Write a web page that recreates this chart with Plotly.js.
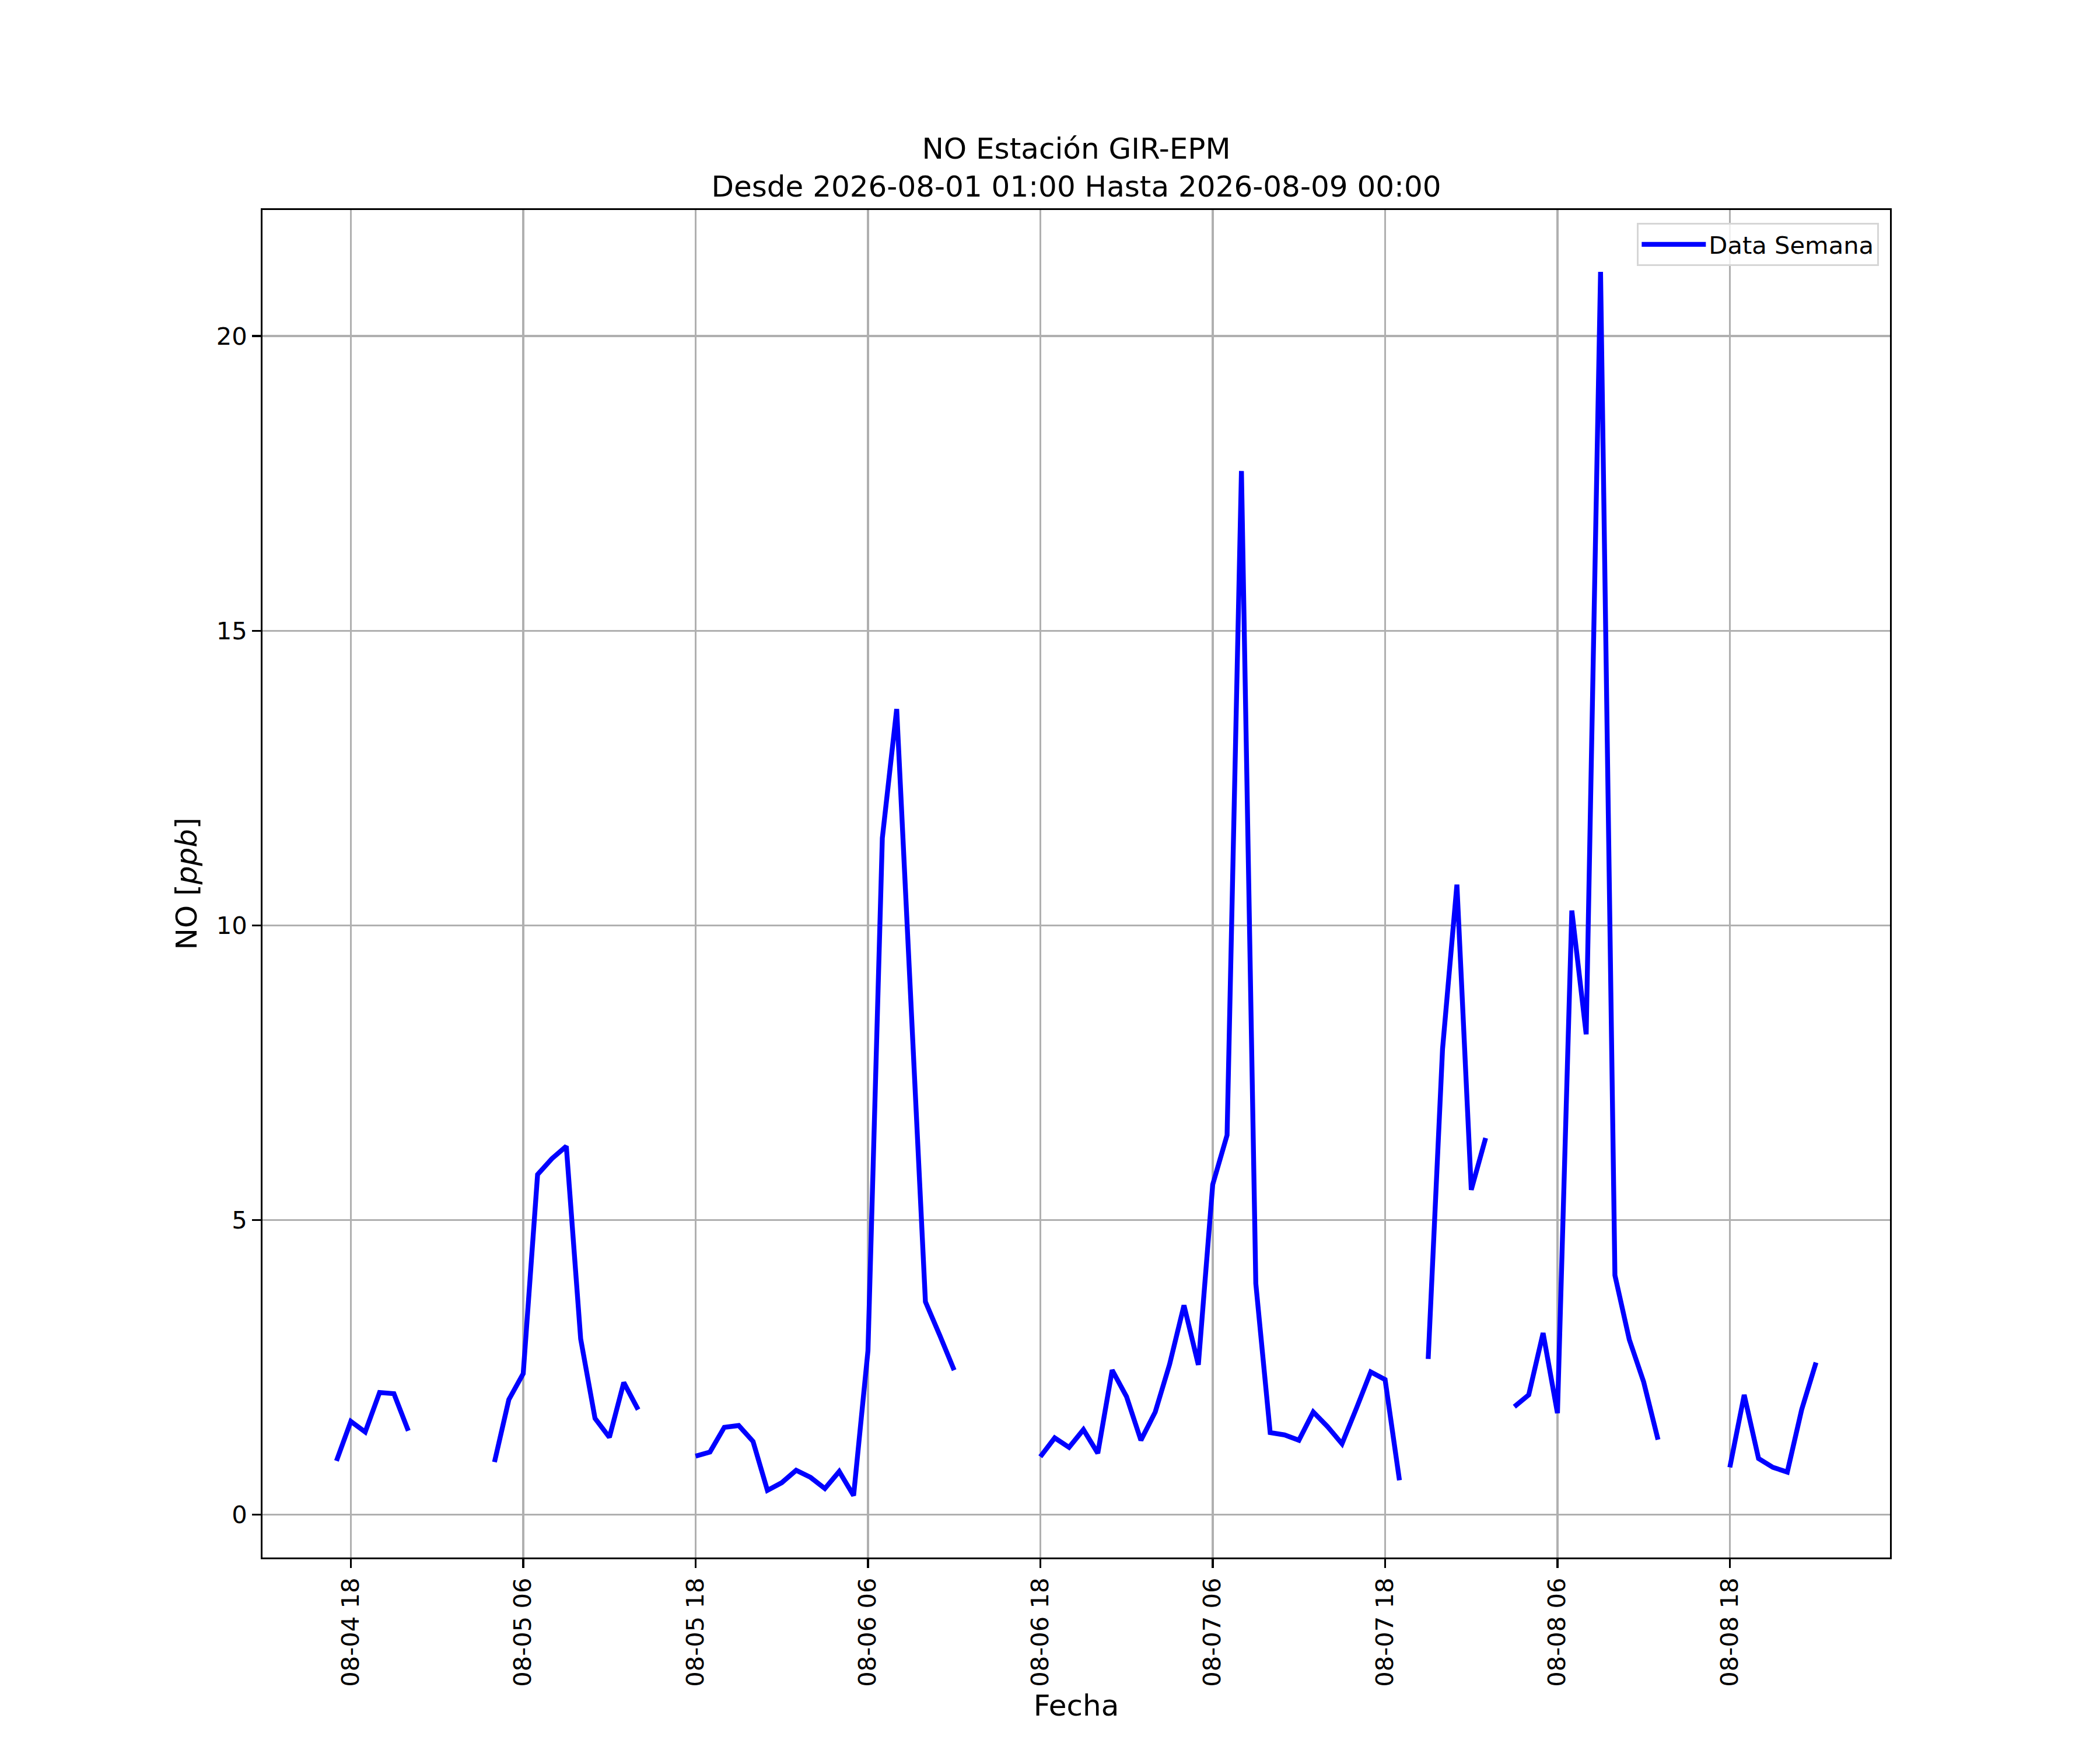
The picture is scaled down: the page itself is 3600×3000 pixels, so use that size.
<!DOCTYPE html>
<html>
<head>
<meta charset="utf-8">
<script src="https://cdn.plot.ly/plotly-3.0.1.min.js"></script>
<style>
  html, body { margin: 0; padding: 0; background: #ffffff; }
  #chart { width: 3600px; height: 3000px; }
</style>
</head>
<body>
<div id="chart"></div>
<script>
// hourly NO readings (ppb), null = missing hour
const FIRST_HOUR = '2026-08-04T17:00:00Z';
const aug04 = [0.91, 1.58, 1.40, 2.07, 2.05, 1.42, null];                 // 17..23
const aug05 = [null, null, null, null, 0.89, 1.95, 2.39, 5.77, 6.04, 6.25, 2.98, 1.63,
               1.31, 2.24, 1.78, null, null, null, 0.99, 1.06, 1.48, 1.51, 1.24, 0.41];
const aug06 = [0.54, 0.75, 0.63, 0.44, 0.73, 0.32, 2.78, 11.48, 13.67, 8.65, 3.61, 3.04,
               2.45, null, null, null, null, null, 0.98, 1.30, 1.14, 1.44, 1.04, 2.45];
const aug07 = [2.00, 1.26, 1.74, 2.55, 3.55, 2.54, 5.60, 6.44, 17.71, 3.92, 1.39, 1.35,
               1.26, 1.74, 1.49, 1.20, 1.80, 2.42, 2.29, 0.58, null, 2.64, 7.90, 10.69];
const aug08 = [5.51, 6.39, null, 1.83, 2.03, 3.08, 1.72, 10.25, 8.15, 21.09, 4.06, 2.97,
               2.25, 1.27, null, null, null, null, 0.80, 2.03, 0.95, 0.80, 0.72, 1.78];
const aug09 = [2.58];                                                     // 00

const noValues = [].concat(aug04, aug05, aug06, aug07, aug08, aug09);

function hourStamp(i) {
  const d = new Date(Date.parse(FIRST_HOUR) + i * 3600000);
  return d.toISOString().slice(0, 16).replace('T', ' ');
}
const times = noValues.map((_, i) => hourStamp(i));

const PX = 300 / 72;   // points -> pixels at 300 dpi

Plotly.newPlot('chart', [{
  type: 'scatter',
  mode: 'lines',
  name: 'Data Semana',
  x: times,
  y: noValues,
  line: { color: '#0000ff', width: 2 * PX },
  connectgaps: false,
}], {
  width: 3600,
  height: 3000,
  paper_bgcolor: '#ffffff',
  plot_bgcolor: '#ffffff',
  font: { family: 'DejaVu Sans', color: '#000000', size: 10 * PX },
  margin: { l: 450, r: 360, t: 360, b: 330, pad: 0 },
  title: {
    text: 'NO Estación GIR-EPM<br>Desde 2026-08-01 01:00 Hasta 2026-08-09 00:00',
    font: { size: 12 * PX },
    xref: 'paper', x: 0.5, xanchor: 'center',
    yref: 'paper', y: 1, yanchor: 'bottom',
    pad: { b: 88 },
  },
  showlegend: true,
  legend: {
    x: 0.9932, y: 0.9905, xanchor: 'right', yanchor: 'top',
    bgcolor: 'rgba(255,255,255,0.8)',
    bordercolor: '#d6d6d6', borderwidth: 3.3,
    itemwidth: 110,
    font: { size: 10 * PX },
  },
  xaxis: {
    type: 'date',
    range: ['2026-08-04 11:51', '2026-08-09 05:09'],
    tick0: '2026-08-04 18:00', dtick: 12 * 3600000,
    tickformat: '%m-%d %H',
    tickangle: -90,
    ticks: 'outside', ticklen: 3.5 * PX, tickwidth: 0.8 * PX, tickcolor: '#000000',
    tickfont: { size: 10 * PX },
    showgrid: true, gridcolor: '#b0b0b0', gridwidth: 0.8 * PX,
    showline: true, linecolor: '#000000', linewidth: 0.8 * PX, mirror: true,
    zeroline: false,
    title: { text: 'Fecha', font: { size: 12 * PX }, standoff: 16 },
  },
  yaxis: {
    range: [-0.73, 22.14],
    tick0: 0, dtick: 5,
    ticks: 'outside', ticklen: 3.5 * PX, tickwidth: 0.8 * PX, tickcolor: '#000000',
    tickfont: { size: 10 * PX },
    showgrid: true, gridcolor: '#b0b0b0', gridwidth: 0.8 * PX,
    showline: true, linecolor: '#000000', linewidth: 0.8 * PX, mirror: true,
    zeroline: false,
    title: { text: 'NO [<i>ppb</i>]', font: { size: 12 * PX }, standoff: 18 },
  },
}, { displayModeBar: false, staticPlot: true });
</script>
</body>
</html>
